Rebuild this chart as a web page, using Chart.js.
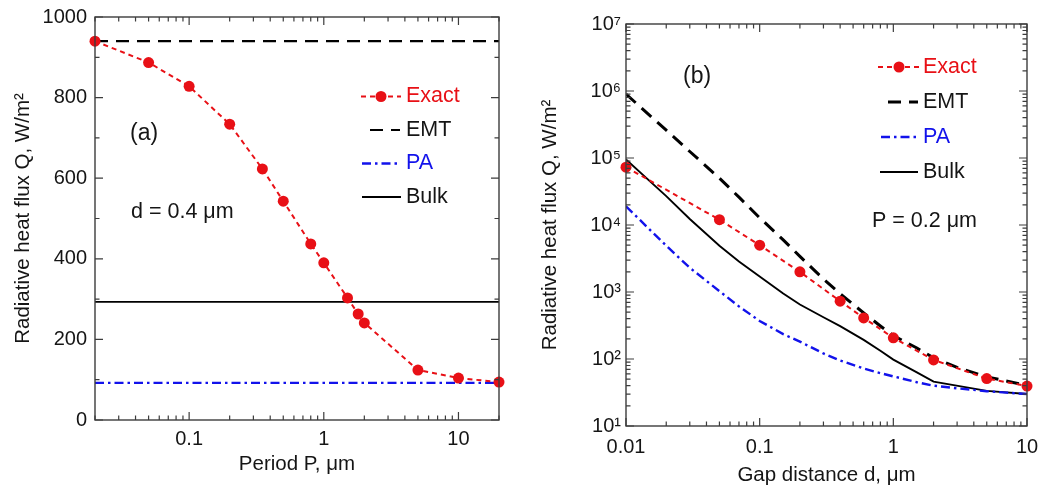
<!DOCTYPE html>
<html>
<head>
<meta charset="utf-8">
<script src="https://cdn.jsdelivr.net/npm/chart.js@4.4.1/dist/chart.umd.min.js"></script>
<style>
  html, body { margin: 0; padding: 0; background: #fff; }
  #wrap { position: relative; width: 1041px; height: 489px; }
  #ca { position: absolute; left: 0; top: 0; }
  #cb { position: absolute; left: 520px; top: 0; }
</style>
</head>
<body>
<div id="wrap">
  <canvas id="ca" width="520" height="489"></canvas>
  <canvas id="cb" width="521" height="489"></canvas>
</div>
<script>
// ---- Panel (a): heat flux versus grating period, gap d = 0.4 um ----
const periodP   = [0.02, 0.05, 0.1, 0.2, 0.35, 0.5, 0.8, 1, 1.5, 1.8, 2, 5, 10, 20];
const exactQvsP = [940, 887, 828, 734, 623, 543, 437, 390, 303, 263, 241, 124, 104, 94];
const periodSpan = [0.02, 20];
const emtQvsP   = [940, 940];
const paQvsP    = [92, 92];
const bulkQvsP  = [293, 293];
const fluxTicksA  = [0, 200, 400, 600, 800, 1000];
const periodTicks = [0.1, 1, 10];

// ---- Panel (b): heat flux versus gap distance, period P = 0.2 um ----
const gapExact  = [0.01, 0.05, 0.1, 0.2, 0.4, 0.6, 1, 2, 5, 10];
const exactQvsD = [73000, 12000, 5000, 2000, 730, 410, 207, 97, 51, 39.5];
const gapEMT    = [0.01, 0.02, 0.03, 0.05, 0.07, 0.1, 0.15, 0.2, 0.3, 0.4, 0.6, 0.8, 1, 1.5, 2, 3, 5, 7, 10];
const emtQvsD   = [900000, 260000, 125000, 50000, 26000, 12800, 6000, 3400, 1560, 940, 487, 311, 223, 146, 104, 75, 54, 47, 40];
const gapPA     = [0.01, 0.02, 0.03, 0.05, 0.07, 0.1, 0.15, 0.2, 0.3, 0.4, 0.6, 0.8, 1, 1.5, 2, 3, 5, 7, 10];
const paQvsD    = [19000, 4900, 2300, 1030, 610, 370, 235, 182, 121, 95, 72, 61.5, 55, 45, 40, 36.5, 33, 31.5, 30];
const gapBulk   = [0.01, 0.02, 0.03, 0.05, 0.07, 0.1, 0.15, 0.2, 0.3, 0.4, 0.6, 0.8, 1, 1.5, 2, 5, 10];
const bulkQvsD  = [95000, 27000, 12300, 4900, 2860, 1700, 950, 650, 420, 310, 193, 133, 98, 63, 46, 33.5, 30];
const gapTicks  = [0.01, 0.1, 1, 10];
const fluxExpB  = [1, 2, 3, 4, 5, 6, 7];

const RED = 'rgb(232,16,22)';
const BLUE = 'rgb(18,18,235)';
const INK = '#151515';
const FAMILY = '"Liberation Sans", Arial, sans-serif';
const SUP = { '0': '\u2070', '1': '\u00b9', '2': '\u00b2', '3': '\u00b3', '4': '\u2074',
              '5': '\u2075', '6': '\u2076', '7': '\u2077', '8': '\u2078', '9': '\u2079' };

const pts = (xs, ys) => xs.map((x, i) => ({ x, y: ys[i] }));

// minor/major positions on a log axis (1..9 per decade)
function logMarks(min, max) {
  const out = [];
  for (let e = Math.floor(Math.log10(min)) - 1; e <= Math.ceil(Math.log10(max)); e++) {
    for (let m = 1; m <= 9; m++) {
      const v = m * Math.pow(10, e);
      if (v >= min * 0.999 && v <= max * 1.001) out.push({ v, major: m === 1 });
    }
  }
  return out;
}
function linMarks(min, max, step, majorStep) {
  const out = [];
  for (let v = min; v <= max + 1e-9; v += step) out.push({ v, major: Math.abs(v / majorStep - Math.round(v / majorStep)) < 1e-9 });
  return out;
}

// keep the plotting box where the axes were sized, without label overhang
function noOverhang(s) {
  s.paddingLeft = 0; s.paddingRight = 0; s.paddingTop = 0; s.paddingBottom = 0;
}

// box frame with inward tick marks on all four sides
const frameTicks = {
  id: 'frameTicks',
  afterDatasetsDraw(chart, args, o) {
    const { ctx, chartArea: a, scales } = chart;
    const xs = scales.x, ys = scales.y;
    ctx.save();
    ctx.strokeStyle = '#3c3c3c';
    ctx.lineWidth = 1.4;
    ctx.setLineDash([]);
    ctx.strokeRect(a.left, a.top, a.right - a.left, a.bottom - a.top);
    ctx.lineWidth = 1.2;
    ctx.beginPath();
    o.xMarks(xs).forEach(t => {
      const px = xs.getPixelForValue(t.v);
      const L = t.major ? 8 : 4.5;
      ctx.moveTo(px, a.bottom); ctx.lineTo(px, a.bottom - L);
      ctx.moveTo(px, a.top); ctx.lineTo(px, a.top + L);
    });
    o.yMarks(ys).forEach(t => {
      const py = ys.getPixelForValue(t.v);
      const L = t.major ? 8 : 4.5;
      ctx.moveTo(a.left, py); ctx.lineTo(a.left + L, py);
      ctx.moveTo(a.right, py); ctx.lineTo(a.right - L, py);
    });
    ctx.stroke();
    ctx.restore();
  }
};

// key drawn inside the plotting box
const keyBox = {
  id: 'keyBox',
  afterDatasetsDraw(chart, args, o) {
    const ctx = chart.ctx;
    o.rows.forEach((row, i) => {
      const ds = chart.data.datasets[row.ds];
      const y = o.y + i * o.dy;
      ctx.save();
      ctx.strokeStyle = ds.borderColor;
      ctx.lineWidth = ds.borderWidth;
      ctx.setLineDash(ds.borderDash || []);
      ctx.beginPath();
      ctx.moveTo(row.x0, y);
      ctx.lineTo(row.x1, y);
      ctx.stroke();
      if (ds.pointRadius > 0) {
        ctx.setLineDash([]);
        ctx.fillStyle = ds.pointBackgroundColor;
        ctx.beginPath();
        ctx.arc((row.x0 + row.x1) / 2, y, ds.pointRadius, 0, Math.PI * 2);
        ctx.fill();
      }
      ctx.fillStyle = row.color;
      ctx.font = o.font;
      ctx.textAlign = 'left';
      ctx.textBaseline = 'middle';
      ctx.fillText(ds.label, o.tx, y);
      ctx.restore();
    });
  }
};

// panel tag and parameter note
const notes = {
  id: 'notes',
  afterDatasetsDraw(chart, args, o) {
    const ctx = chart.ctx;
    ctx.save();
    ctx.fillStyle = INK;
    ctx.textAlign = 'left';
    ctx.textBaseline = 'middle';
    o.items.forEach(t => {
      ctx.font = t.size + 'px ' + FAMILY;
      ctx.fillText(t.text, t.x, t.y);
    });
    ctx.restore();
  }
};

const tickFont = { family: FAMILY, size: 20 };
const titleFont = { family: FAMILY, size: 20.5 };
const noGrid = { display: false, drawTicks: false };

function exactSet(data) {
  return { label: 'Exact', data, borderColor: RED, backgroundColor: RED, borderWidth: 2,
           borderDash: [5, 4], pointRadius: 5.5, pointHoverRadius: 5.5, pointBackgroundColor: RED,
           pointBorderWidth: 0, clip: false, tension: 0 };
}
function emtSet(data, w) {
  return { label: 'EMT', data, borderColor: '#000', backgroundColor: '#000', borderWidth: w,
           borderDash: [13, 8], pointRadius: 0, tension: 0 };
}
function paSet(data) {
  return { label: 'PA', data, borderColor: BLUE, backgroundColor: BLUE, borderWidth: 2.4,
           borderDash: [9, 4, 2.5, 4], pointRadius: 0, tension: 0 };
}
function bulkSet(data) {
  return { label: 'Bulk', data, borderColor: '#000', backgroundColor: '#000', borderWidth: 1.9,
           pointRadius: 0, tension: 0 };
}

// ---------- panel (a) ----------
new Chart(document.getElementById('ca'), {
  type: 'line',
  data: {
    datasets: [
      exactSet(pts(periodP, exactQvsP)),
      emtSet(pts(periodSpan, emtQvsP), 2.2),
      paSet(pts(periodSpan, paQvsP)),
      bulkSet(pts(periodSpan, bulkQvsP))
    ]
  },
  options: {
    responsive: false,
    animation: false,
    layout: { padding: { left: 0, right: 21, top: 17, bottom: 0 } },
    plugins: {
      legend: { display: false },
      tooltip: { enabled: false },
      frameTicks: {
        xMarks: s => logMarks(s.min, s.max),
        yMarks: s => linMarks(0, 1000, 100, 200)
      },
      keyBox: {
        y: 96.5, dy: 33.5, tx: 406, font: '21.5px ' + FAMILY,
        rows: [
          { ds: 0, x0: 361, x1: 401, color: RED },
          { ds: 1, x0: 370, x1: 400, color: INK },
          { ds: 2, x0: 362, x1: 397, color: BLUE },
          { ds: 3, x0: 362, x1: 401, color: INK }
        ]
      },
      notes: {
        items: [
          { text: '(a)', x: 130, y: 134, size: 23 },
          { text: 'd = 0.4 \u03bcm', x: 131, y: 212, size: 21.5 }
        ]
      }
    },
    scales: {
      x: {
        type: 'logarithmic', min: periodSpan[0], max: periodSpan[1],
        grid: noGrid, border: { display: false },
        afterBuildTicks: s => { s.ticks = periodTicks.map(v => ({ value: v })); },
        afterFit: s => { s.height = 69; noOverhang(s); },
        ticks: { padding: 7, color: INK, font: tickFont, maxRotation: 0, autoSkip: false,
                 callback: v => String(v) },
        title: { display: true, text: 'Period P, \u03bcm', color: INK, font: titleFont,
                 padding: { top: 0, bottom: 12 } }
      },
      y: {
        type: 'linear', min: 0, max: 1000,
        grid: noGrid, border: { display: false },
        afterBuildTicks: s => { s.ticks = fluxTicksA.map(v => ({ value: v })); },
        afterFit: s => { s.width = 95; noOverhang(s); },
        ticks: { padding: 8, color: INK, font: tickFont, callback: v => String(v) },
        title: { display: true, text: 'Radiative heat flux Q, W/m\u00b2', color: INK, font: titleFont,
                 padding: { top: 11, bottom: 0 } }
      }
    }
  },
  plugins: [frameTicks, keyBox, notes]
});

// ---------- panel (b) ----------
new Chart(document.getElementById('cb'), {
  type: 'line',
  data: {
    datasets: [
      exactSet(pts(gapExact, exactQvsD)),
      emtSet(pts(gapEMT, emtQvsD), 3),
      paSet(pts(gapPA, paQvsD)),
      bulkSet(pts(gapBulk, bulkQvsD))
    ]
  },
  options: {
    responsive: false,
    animation: false,
    layout: { padding: { left: 0, right: 14, top: 24, bottom: 0 } },
    plugins: {
      legend: { display: false },
      tooltip: { enabled: false },
      frameTicks: {
        xMarks: s => logMarks(s.min, s.max),
        yMarks: s => logMarks(s.min, s.max)
      },
      keyBox: {
        y: 67, dy: 35, tx: 403, font: '21.5px ' + FAMILY,
        rows: [
          { ds: 0, x0: 358, x1: 400, color: RED },
          { ds: 1, x0: 368, x1: 398, color: INK },
          { ds: 2, x0: 361, x1: 396, color: BLUE },
          { ds: 3, x0: 360, x1: 398, color: INK }
        ]
      },
      notes: {
        items: [
          { text: '(b)', x: 163, y: 77, size: 23 },
          { text: 'P = 0.2 \u03bcm', x: 352, y: 221, size: 21.5 }
        ]
      }
    },
    scales: {
      x: {
        type: 'logarithmic', min: 0.01, max: 10,
        grid: noGrid, border: { display: false },
        afterBuildTicks: s => { s.ticks = gapTicks.map(v => ({ value: v })); },
        afterFit: s => { s.height = 63; noOverhang(s); },
        ticks: { padding: 9, color: INK, font: tickFont, maxRotation: 0, autoSkip: false,
                 callback: v => String(v) },
        title: { display: true, text: 'Gap distance d, \u03bcm', color: INK, font: titleFont,
                 padding: { top: 0, bottom: 1 } }
      },
      y: {
        type: 'logarithmic', min: 10, max: 1e7,
        grid: noGrid, border: { display: false },
        afterBuildTicks: s => { s.ticks = fluxExpB.map(e => ({ value: Math.pow(10, e) })); },
        afterFit: s => { s.width = 106; noOverhang(s); },
        ticks: { padding: 5, color: INK, font: tickFont,
                 callback: v => '10' + String(Math.round(Math.log10(v))).split('').map(c => SUP[c]).join('') },
        title: { display: true, text: 'Radiative heat flux Q, W/m\u00b2', color: INK, font: titleFont,
                 padding: { top: 18, bottom: 0 } }
      }
    }
  },
  plugins: [frameTicks, keyBox, notes]
});
</script>
</body>
</html>
